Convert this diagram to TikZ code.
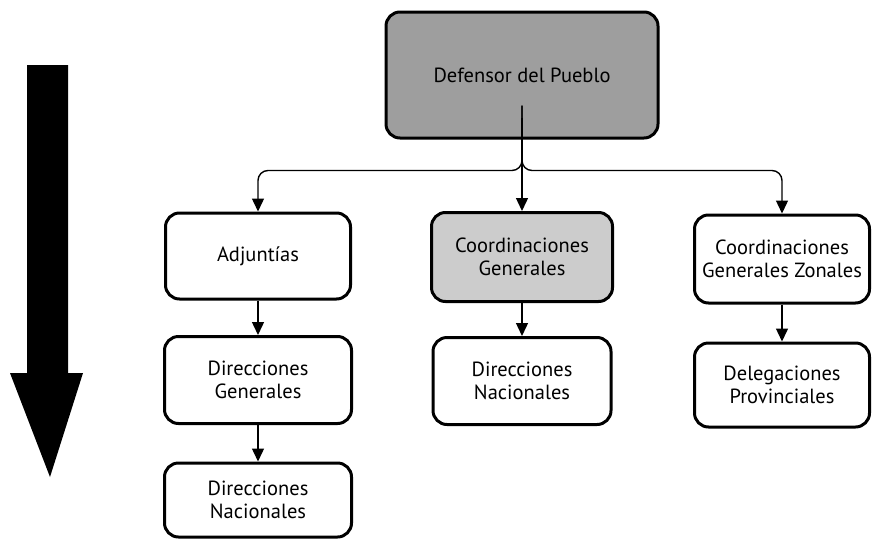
\documentclass[tikz,border=0pt]{standalone}
\usepackage{fontspec}
\setmainfont{PT Sans}
\usetikzlibrary{arrows.meta,calc}
\begin{document}
\begin{tikzpicture}[x=1pt,y=-1pt,
  orgbox/.style={draw=black, line width=3pt, rounded corners=14pt, align=center,
    font=\fontsize{20.5}{23.5}\selectfont, inner sep=0pt},
  conn/.style={line width=1.4pt, -{Triangle[width=12pt,length=13pt]}},
  link/.style={line width=1.4pt}]
\useasboundingbox (0,0) rectangle (874,546);
% big arrow
\fill[black] (27,65) -- (68,65) -- (68,373) -- (83,373) -- (50,477) -- (10,373) -- (27,373) -- cycle;
% boxes
\node[orgbox, fill=black!38, minimum width=272pt, minimum height=126pt] (top) at (522,75) {Defensor del Pueblo};
\node[orgbox, fill=white, minimum width=185pt, minimum height=86pt] (adj) at (258,256) {Adjuntías};
\node[orgbox, fill=white, minimum width=187pt, minimum height=87pt] (dg) at (258,380) {Direcciones\\Generales};
\node[orgbox, fill=white, minimum width=187pt, minimum height=74pt] (dn1) at (258,500) {Direcciones\\Nacionales};
\node[orgbox, fill=black!20, minimum width=181pt, minimum height=89pt] (cg) at (522,257) {Coordinaciones\\Generales};
\node[orgbox, fill=white, minimum width=178pt, minimum height=87pt] (dn2) at (522,381) {Direcciones\\Nacionales};
\node[orgbox, fill=white, minimum width=175pt, minimum height=88pt] (cgz) at (782,259) {Coordinaciones\\Generales Zonales};
\node[orgbox, fill=white, minimum width=175pt, minimum height=84pt] (del) at (782,385) {Delegaciones\\Provinciales};
% connectors
\coordinate (j) at ($(top.south)+(0,-22)$);
\draw[link] (top.south) -- (j);
\draw[conn] (j) -- (cg.north);
\draw[conn, rounded corners=10pt] ($(j)+(0,-12)$) |- ([yshift=41pt]adj.north) -- (adj.north);
\draw[conn, rounded corners=10pt] ($(j)+(0,-12)$) |- ([yshift=43pt]cgz.north) -- (cgz.north);
\draw[conn] (adj.south) -- (dg.north);
\draw[conn] (dg.south) -- (dn1.north);
\draw[conn] (cg.south) -- (dn2.north);
\draw[conn] (cgz.south) -- (del.north);
\end{tikzpicture}
\end{document}
